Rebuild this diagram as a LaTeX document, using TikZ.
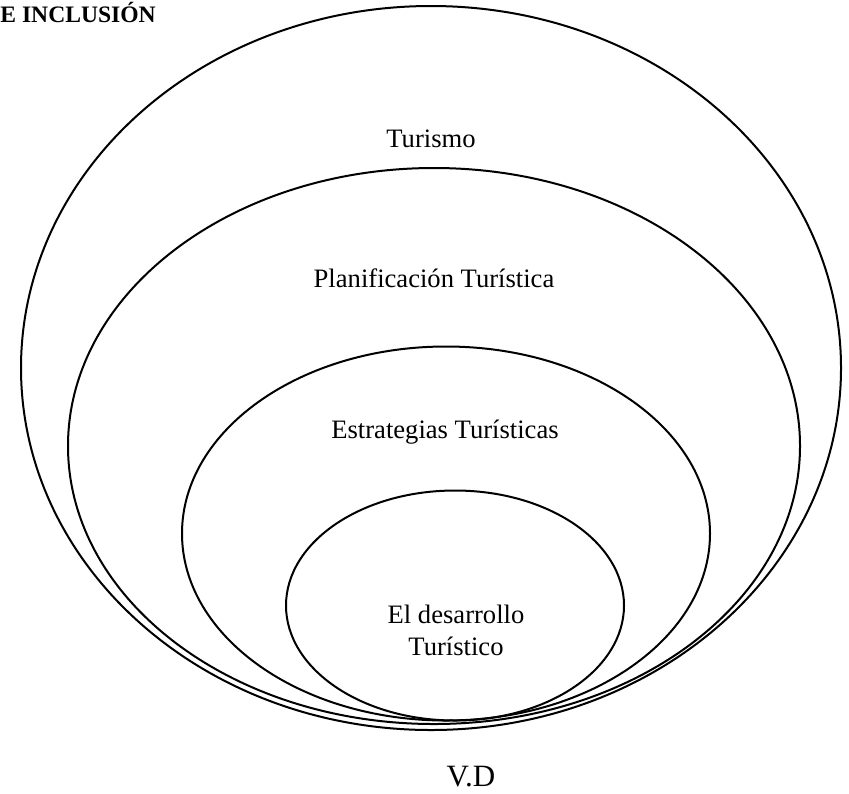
\documentclass[tikz,border=0pt]{standalone}
\usepackage{fontspec}
\setmainfont{Liberation Serif}
\usepackage{tikz}
\usetikzlibrary{shapes.geometric}
\tikzstyle{anillo} = [ellipse, draw=black, line width=1pt, inner sep=0pt, outer sep=0pt]
\tikzstyle{texto} = [font=\fontsize{13.3}{16}\selectfont, inner sep=0pt, anchor=base]

\begin{document}
\begin{tikzpicture}[x=0.5pt,y=-0.5pt]
\useasboundingbox (0,0) rectangle (849,793);
% los cuatro conjuntos
\node (turismo) [anillo, minimum width=410pt, minimum height=362pt] at (431,368) {};
\node (planif) [anillo, minimum width=366pt, minimum height=278pt] at (434,446) {};
\node (estrat) [anillo, minimum width=264pt, minimum height=187pt] at (446,533.5) {};
\node (desarr) [anillo, minimum width=169pt, minimum height=115pt] at (455,605.5) {};
% etiquetas
\node (tturismo) [texto] at (431,147) {Turismo};
\node (tplanif) [texto] at (434,287) {Planificación Turística};
\node (testrat) [texto] at (445,438) {Estrategias Turísticas};
\node (tdesarr) [texto, anchor=center, align=center] at (456,630) {El desarrollo\\Turístico};
\node (vd) [texto, font=\fontsize{15.5}{18}\selectfont] at (471,786) {V.D};
\node (titulo) [texto, anchor=base west, font=\bfseries\fontsize{11.8}{14}\selectfont] at (0,22) {E INCLUSIÓN};
\end{tikzpicture}
\end{document}
